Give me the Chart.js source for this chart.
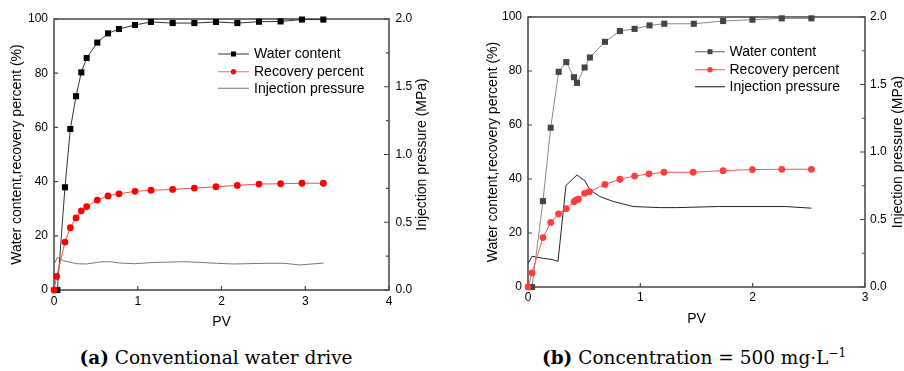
<!DOCTYPE html>
<html><head><meta charset="utf-8">
<script src="https://cdn.jsdelivr.net/npm/chart.js@4/dist/chart.umd.min.js"></script>
<style>
body{margin:0;background:#fff;width:904px;height:371px;position:relative;overflow:hidden}
.box{position:absolute;top:0;width:452px;height:340px}
.cap{position:absolute;top:347px;font-family:"DejaVu Serif",serif;font-size:18.5px;color:#000;white-space:nowrap;transform:translateX(-50%);line-height:22px}
.cap sup{font-size:12px;vertical-align:7px;line-height:0}
</style></head><body>
<div class="box" style="left:0"><canvas id="ca" width="452" height="340"></canvas></div>
<div class="box" style="left:452px"><canvas id="cb" width="452" height="340"></canvas></div>
<div class="cap" style="left:216px"><b>(a)</b> Conventional water drive</div>
<div class="cap" style="left:694px"><b>(b)</b> Concentration = 500 mg·L<sup>−1</sup></div>
<script>
// ---------- Panel (a): conventional water drive ----------
const pvA_water = [0.04,0.131,0.195,0.263,0.326,0.39,0.517,0.645,0.776,0.967,1.158,1.417,1.676,1.934,2.189,2.448,2.706,2.961,3.216];
const waterA    = [0,37.9,59.4,71.5,80.3,85.6,91.3,94.7,96.3,97.8,98.9,98.5,98.5,98.9,98.5,99.0,99.1,99.8,99.8];
const pvA_rec   = [0,0.032,0.131,0.195,0.263,0.326,0.39,0.517,0.645,0.776,0.967,1.158,1.417,1.676,1.934,2.189,2.448,2.706,2.961,3.216];
const recA      = [0,5.0,17.7,23.0,26.6,29.2,30.8,33.2,34.7,35.5,36.4,36.8,37.1,37.6,38.1,38.6,39.1,39.2,39.4,39.4];
const pvA_p     = [0,0.04,0.11,0.27,0.39,0.55,0.67,0.79,0.97,1.15,1.54,1.74,1.94,2.14,2.54,2.74,2.94,3.22];
const presA     = [0.187,0.241,0.216,0.194,0.192,0.207,0.209,0.199,0.194,0.202,0.209,0.204,0.197,0.192,0.197,0.197,0.185,0.199];

// ---------- Panel (b): concentration = 500 mg/L ----------
const pvB_water = [0.036,0.133,0.202,0.273,0.341,0.409,0.436,0.504,0.551,0.685,0.818,0.949,1.082,1.213,1.476,1.737,1.998,2.259,2.523];
const waterB    = [0,31.8,59.0,79.7,83.3,77.7,75.6,81.3,85.0,90.8,94.8,95.6,96.9,97.5,97.5,98.5,99.0,99.5,99.5];
const pvB_rec   = [0,0.036,0.133,0.202,0.272,0.34,0.41,0.427,0.448,0.504,0.546,0.685,0.818,0.949,1.077,1.21,1.47,1.737,1.998,2.259,2.523];
const recB      = [0,5.2,18.3,23.9,27.1,29.0,31.6,32.2,32.5,34.7,35.3,38.0,39.9,41.1,41.9,42.5,42.5,43.1,43.5,43.6,43.6];
const pvB_p     = [0,0.01,0.036,0.136,0.213,0.267,0.338,0.436,0.507,0.552,0.64,0.76,0.937,1.174,1.32,1.696,2.289,2.523];
const presB     = [0.177,0.185,0.228,0.212,0.204,0.19,0.752,0.83,0.786,0.719,0.67,0.633,0.596,0.588,0.588,0.596,0.596,0.584];

const seriesNames = ['Water content','Recovery percent','Injection pressure'];
const xTitle = 'PV';
const yTitle = 'Water content,recovery percent (%)';
const y1Title = 'Injection pressure (MPa)';

const SANS = '"Liberation Sans", Arial, sans-serif';
function pts(xs, ys){ return xs.map((x,i)=>({x:x, y:ys[i]})); }

const framePlugin = {
  id: 'frame',
  beforeDatasetsDraw(chart, args, o) {
    const {ctx, chartArea:a, scales} = chart;
    ctx.save();
    ctx.strokeStyle = '#444'; ctx.lineWidth = 1.5;
    ctx.strokeRect(a.left, a.top, a.right - a.left, a.bottom - a.top);
    ctx.lineWidth = 1.2;
    ctx.beginPath();
    for (let v = 0; v <= scales.x.max; v += 1) {
      const p = scales.x.getPixelForValue(v);
      ctx.moveTo(p, a.bottom); ctx.lineTo(p, a.bottom - 4);
    }
    for (let v = 0; v <= 100; v += 20) {
      const p = scales.y.getPixelForValue(v);
      ctx.moveTo(a.left, p); ctx.lineTo(a.left + 4, p);
    }
    for (let i = 0; i <= 8; i++) {
      const v = i * 0.25;
      const p = scales.y1.getPixelForValue(v);
      ctx.moveTo(a.right, p); ctx.lineTo(a.right - (i % 2 === 0 ? 5 : 3), p);
    }
    ctx.stroke();
    // right axis title, reading bottom-to-top
    ctx.fillStyle = '#000';
    ctx.font = '14px ' + SANS;
    ctx.textAlign = 'center'; ctx.textBaseline = 'middle';
    ctx.translate(o.y1TitleX, (a.top + a.bottom) / 2);
    ctx.rotate(-Math.PI / 2);
    ctx.fillText(y1Title, 0, 0);
    ctx.restore();
  },
  afterDatasetsDraw(chart, args, o) {
    const {ctx} = chart;
    const ds = chart.data.datasets;
    ctx.save();
    ctx.font = '14px ' + SANS;
    ctx.textAlign = 'left'; ctx.textBaseline = 'middle';
    o.legendRows.forEach((yy, i) => {
      const d = ds[i];
      ctx.strokeStyle = o.legendLine[i]; ctx.lineWidth = 1.2;
      ctx.beginPath(); ctx.moveTo(o.legX0, yy); ctx.lineTo(o.legX1, yy); ctx.stroke();
      const mx = (o.legX0 + o.legX1) / 2;
      ctx.fillStyle = d.pointBackgroundColor;
      if (d.pointStyle === 'rect') { ctx.fillRect(mx - 2.5, yy - 2.5, 5, 5); }
      else if (d.pointRadius > 0) { ctx.beginPath(); ctx.arc(mx, yy, 2.7, 0, Math.PI*2); ctx.fill(); }
      ctx.fillStyle = '#000';
      ctx.fillText(seriesNames[i], o.legText, yy + 0.5);
    });
    ctx.restore();
  }
};

function makeChart(id, c) {
  const tickFont = {family: SANS, size: 12};
  const titleFont = {family: SANS, size: 14};
  return new Chart(document.getElementById(id), {
    type: 'scatter',
    data: { datasets: [
      { label: seriesNames[0], data: pts(c.wx, c.wy), yAxisID: 'y', showLine: true, borderColor: c.wLine, borderWidth: 1,
        pointStyle: 'rect', pointRadius: 4.3, pointBackgroundColor: c.wPt, pointBorderColor: c.wPt, pointBorderWidth: 0, tension: 0, clip: false, order: 2 },
      { label: seriesNames[1], data: pts(c.rx, c.ry), yAxisID: 'y', showLine: true, borderColor: c.rLine, borderWidth: 1,
        pointStyle: 'circle', pointRadius: 3.4, pointBackgroundColor: c.rPt, pointBorderColor: c.rPt, pointBorderWidth: 0, tension: 0, clip: false, order: 1 },
      { label: seriesNames[2], data: pts(c.px, c.py), yAxisID: 'y1', showLine: true, borderColor: c.pLine, borderWidth: 1,
        pointRadius: 0, tension: 0, clip: false, order: 3 }
    ]},
    options: {
      responsive: false, animation: false, devicePixelRatio: 1,
      layout: {padding: {top: c.top, left: 0, right: 0, bottom: 0}},
      plugins: {legend: {display: false}, tooltip: {enabled: false},
        frame: {y1TitleX: c.y1TitleX, legendRows: c.legRows, legX0: c.legX0, legX1: c.legX1, legText: c.legText, legendLine: c.legLine}},
      scales: {
        x: {type: 'linear', min: 0, max: c.xmax,
          ticks: {stepSize: 1, padding: c.xpad, font: tickFont, color: '#000'},
          grid: {display: false, drawTicks: false}, border: {display: false},
          title: {display: true, text: xTitle, font: titleFont, color: '#000', padding: {top: 0, bottom: c.pvPad}},
          afterFit(s) { s.height = c.xh; }},
        y: {type: 'linear', position: 'left', min: 0, max: 100,
          ticks: {stepSize: 20, padding: 6, font: tickFont, color: '#000'},
          grid: {display: false, drawTicks: false}, border: {display: false},
          title: {display: true, text: yTitle, font: titleFont, color: '#000', padding: {top: c.yTitlePad, bottom: 0}},
          afterFit(s) { s.width = c.yw; }},
        y1: {type: 'linear', position: 'right', min: 0, max: 2,
          ticks: {stepSize: 0.5, padding: c.y1pad, font: tickFont, color: '#000', callback: v => Number(v).toFixed(1)},
          grid: {display: false, drawTicks: false}, border: {display: false},
          afterFit(s) { s.width = c.y1w; }}
      }
    },
    plugins: [framePlugin]
  });
}

makeChart('ca', {
  wx: pvA_water, wy: waterA, rx: pvA_rec, ry: recA, px: pvA_p, py: presA,
  wLine: '#333', wPt: '#000', rLine: '#ff4a4a', rPt: '#ff0000', pLine: '#777',
  xmax: 4, top: 19, xh: 50, yw: 54, y1w: 63, xpad: 4.5, pvPad: 9.6, yTitlePad: 8.6, y1pad: 6.5,
  y1TitleX: 422, legRows: [54, 71.7, 88.3], legX0: 218, legX1: 249, legText: 254,
  legLine: ['#555', '#ff8080', '#888']
});
makeChart('cb', {
  wx: pvB_water, wy: waterB, rx: pvB_rec, ry: recB, px: pvB_p, py: presB,
  wLine: '#888', wPt: '#444', rLine: '#ff5050', rPt: '#ff3c3c', pLine: '#222',
  xmax: 3, top: 17, xh: 53, yw: 76, y1w: 39, xpad: 3.5, pvPad: 12.6, yTitlePad: 32.3, y1pad: 5,
  y1TitleX: 446, legRows: [51.7, 69.7, 86.7], legX0: 243, legX1: 273, legText: 277.5,
  legLine: ['#777', '#ff6060', '#333']
});
</script>
</body></html>
